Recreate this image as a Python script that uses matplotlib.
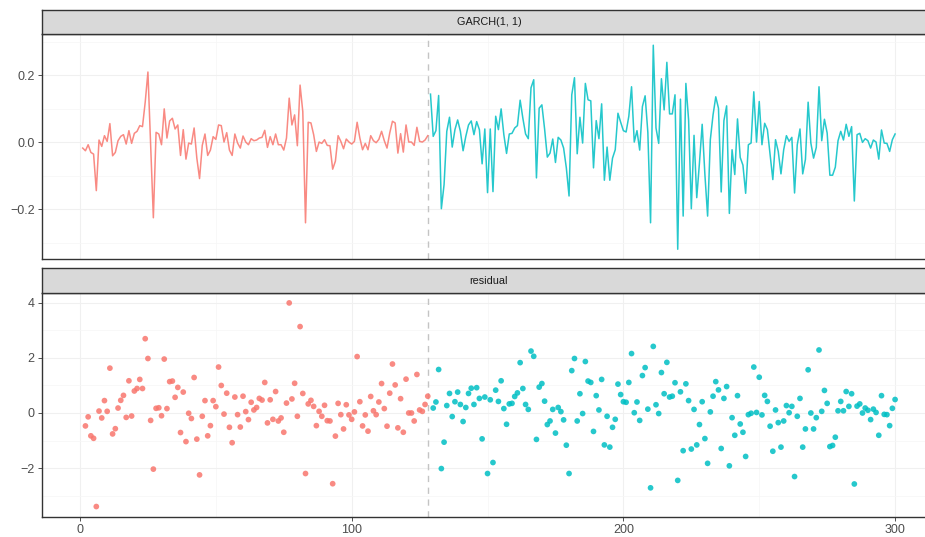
import matplotlib
matplotlib.use("Agg")
import matplotlib.pyplot as plt
import numpy as np
from matplotlib.ticker import FixedLocator, FuncFormatter

# ---------------- data ----------------
garch_red = [
    -0.017, -0.025, -0.007, -0.030, -0.035, -0.144, 0.007, -0.012, 0.020, 0.003,
    0.056, -0.040, -0.030, 0.005, 0.018, 0.023, -0.005, 0.035, -0.003, 0.027,
    0.033, 0.050, 0.047, 0.120, 0.210, -0.010, -0.225, 0.030, 0.025, -0.007,
    0.100, 0.013, 0.064, 0.072, 0.040, 0.052, -0.039, 0.038, -0.050, -0.002,
    -0.005, 0.043, -0.047, -0.108, -0.009, 0.025, -0.039, -0.023, 0.017, 0.009,
    0.052, 0.050, 0.001, 0.029, -0.023, -0.039, 0.025, -0.002, -0.017, 0.019,
    0.001, -0.007, 0.011, 0.005, 0.007, 0.013, 0.015, 0.036, -0.015, 0.017,
    -0.007, 0.025, -0.007, -0.007, -0.023, 0.013, 0.132, 0.052, 0.082, -0.010,
    0.171, 0.092, -0.240, 0.060, 0.058, 0.023, -0.027, 0.001, -0.003, 0.008,
    -0.009, -0.010, -0.080, -0.056, 0.020, 0.003, -0.019, 0.010, 0.001, -0.005,
    0.003, 0.060, 0.013, -0.022, -0.003, -0.022, 0.020, 0.005, -0.001, 0.009,
    0.033, 0.005, -0.017, 0.028, 0.063, 0.058, -0.032, 0.026, -0.029, 0.052,
    0.001, 0.001, -0.009, 0.045, 0.003, 0.001, 0.007, 0.020,
]
garch_red_start = 1

garch_cyan = [
    0.144, 0.018, 0.035, 0.140, -0.198, -0.126, 0.033, 0.075, -0.014, 0.038,
    0.067, 0.033, -0.025, 0.018, 0.052, 0.064, 0.023, 0.062, 0.038, -0.064,
    0.040, -0.150, 0.040, -0.147, 0.078, 0.038, 0.100, 0.023, -0.033, 0.025,
    0.027, 0.043, 0.050, 0.126, 0.072, 0.025, 0.011, 0.163, 0.187, -0.106,
    0.102, 0.112, 0.040, -0.044, -0.032, 0.010, -0.060, 0.015, 0.007, -0.017,
    -0.076, -0.160, 0.142, 0.193, -0.034, 0.075, -0.002, 0.176, 0.127, 0.124,
    -0.076, 0.065, 0.011, 0.115, -0.113, -0.014, -0.113, -0.047, -0.022, 0.087,
    0.060, 0.035, 0.031, 0.078, 0.166, 0.001, 0.035, -0.023, 0.107, 0.139,
    0.030, -0.240, 0.290, 0.043, -0.003, 0.190, 0.097, 0.239, 0.085, 0.085,
    0.142, -0.319, 0.129, -0.220, 0.176, 0.067, -0.198, 0.021, -0.165, -0.061,
    0.054, -0.096, -0.220, 0.008, 0.082, 0.136, 0.102, -0.148, 0.065, 0.109,
    -0.212, -0.022, -0.096, 0.070, -0.045, -0.068, -0.152, -0.007, -0.002, 0.151,
    0.001, 0.122, -0.007, 0.057, 0.038, -0.037, -0.111, 0.008, -0.027, -0.094,
    -0.022, 0.020, 0.003, 0.015, -0.151, -0.007, 0.040, -0.094, -0.051, 0.120,
    -0.002, -0.047, -0.015, 0.166, 0.005, 0.069, 0.028, -0.098, -0.098, -0.074,
    0.005, 0.033, 0.007, 0.054, 0.018, 0.047, -0.175, 0.023, 0.027, 0.000,
    0.011, 0.005, -0.017, 0.007, 0.001, -0.050, 0.037, -0.002, -0.003, -0.027,
    0.008, 0.025,
]
garch_cyan_start = 129

resid_red = [
    -0.47, -0.14, -0.83, -0.92, -3.40, 0.07, -0.18, 0.45, 0.06, 1.63,
    -0.76, -0.57, 0.18, 0.46, 0.64, -0.16, 1.17, -0.11, 0.80, 0.89,
    1.22, 0.89, 2.70, 1.98, -0.27, -2.04, 0.17, 0.19, -0.10, 1.96,
    0.16, 1.14, 1.16, 0.57, 0.93, -0.71, 0.76, -1.04, -0.01, -0.20,
    1.29, -0.95, -2.25, -0.12, 0.45, -0.83, -0.46, 0.45, 0.23, 1.67,
    1.00, -0.04, 0.72, -0.52, -1.08, 0.58, -0.06, -0.51, 0.61, 0.05,
    -0.24, 0.39, 0.11, 0.20, 0.53, 0.47, 1.11, -0.36, 0.48, -0.23,
    0.78, -0.29, -0.18, -0.70, 0.36, 4.00, 0.51, 1.08, -0.12, 3.14,
    0.71, -2.20, 0.33, 0.46, 0.24, -0.46, 0.06, -0.12, 0.28, -0.28,
    -0.29, -2.57, -0.84, 0.35, -0.06, -0.58, 0.30, -0.07, -0.23, 0.04,
    2.05, 0.41, -0.47, -0.07, -0.66, 0.60, 0.08, -0.06, 0.40, 1.07,
    0.16, -0.48, 0.72, 1.78, 1.02, -0.54, 0.52, -0.70, 1.23, 0.00,
    0.00, -0.29, 1.40, 0.11, 0.06, 0.31, 0.61,
]
resid_red_start = 2

resid_cyan = [
    0.18, 0.40, 1.58, -2.02, -1.06, 0.27, 0.71, -0.13, 0.41, 0.76,
    0.31, -0.31, 0.20, 0.71, 0.90, 0.31, 0.92, 0.53, -0.94, 0.58,
    -2.20, 0.48, -1.80, 0.83, 0.42, 1.17, 0.16, -0.41, 0.33, 0.35,
    0.60, 0.73, 1.83, 0.89, 0.31, 0.13, 2.25, 2.06, -0.96, 0.94,
    1.07, 0.43, -0.42, -0.29, 0.13, -0.73, 0.20, 0.05, -0.25, -1.17,
    -2.20, 1.54, 1.98, -0.29, 0.70, -0.02, 1.87, 1.16, 1.11, -0.67,
    0.63, 0.11, 1.22, -1.16, -0.12, -1.24, -0.52, -0.23, 1.05, 0.67,
    0.41, 0.39, 1.11, 2.16, 0.01, 0.40, -0.27, 1.36, 1.65, 0.14,
    -2.72, 2.42, 0.30, -0.02, 1.47, 0.70, 1.84, 0.58, 0.61, 1.10,
    -2.45, 0.77, -1.37, 1.06, 0.45, -1.31, 0.13, -1.16, -0.42, 0.41,
    -0.93, -1.83, 0.04, 0.61, 1.14, 0.84, -1.29, 0.53, 0.96, -1.92,
    -0.17, -0.81, 0.63, -0.40, -0.70, -1.58, -0.06, -0.01, 1.67, 0.02,
    1.30, -0.07, 0.64, 0.42, -0.48, -1.39, 0.11, -0.35, -1.24, -0.29,
    0.27, 0.01, 0.24, -2.31, -0.12, 0.53, -1.24, -0.58, 1.57, 0.00,
    -0.58, -0.17, 2.29, 0.06, 0.82, 0.35, -1.22, -1.18, -0.88, 0.08,
    0.42, 0.08, 0.78, 0.24, 0.70, -2.58, 0.25, 0.33, 0.00, 0.18,
    0.10, -0.24, 0.14, 0.02, -0.81, 0.63, -0.05, -0.06, -0.46, 0.17,
    0.49,
]
resid_cyan_start = 130

split_x = 128
strip_labels = ["GARCH(1, 1)", "residual"]
x_ticks = [0, 100, 200, 300]
x_minor = [50, 150, 250]
top_ticks = [-0.2, 0.0, 0.2]
top_minor = [-0.3, -0.1, 0.1, 0.3]
bot_ticks = [-2, 0, 2, 4]
bot_minor = [-3, -1, 1, 3]

RED = "#F8766D"
CYAN = "#00BFC4"

# ---------------- figure ----------------
plt.rcParams["font.family"] = ["Liberation Sans", "DejaVu Sans"]
W, H = 925, 537
fig = plt.figure(figsize=(W / 100, H / 100), dpi=100)


def rect(l, t, r, b):
    return [l / W, (H - b) / H, (r - l) / W, (b - t) / H]


LEFT, RIGHT = 42.1, 935.7
ax1 = fig.add_axes(rect(LEFT, 34.3, RIGHT, 259.3))
ax2 = fig.add_axes(rect(LEFT, 293.3, RIGHT, 517.0))
s1 = fig.add_axes(rect(LEFT, 10.0, RIGHT, 34.3))
s2 = fig.add_axes(rect(LEFT, 268.3, RIGHT, 293.3))

border = "#333333"
for ax in (ax1, ax2):
    ax.set_facecolor("white")
    for sp in ax.spines.values():
        sp.set_color(border)
        sp.set_linewidth(1.0)
    ax.set_xlim(-13.95, 314.95)
    ax.xaxis.set_major_locator(FixedLocator(x_ticks))
    ax.xaxis.set_minor_locator(FixedLocator(x_minor))
    ax.grid(which="major", color="#F0F0F0", linewidth=0.75)
    ax.grid(which="minor", color="#F6F6F6", linewidth=0.5)
    ax.set_axisbelow(True)
    ax.tick_params(which="major", length=2.9, width=0.6, color=border,
                   labelsize=9, labelcolor="#4D4D4D", pad=2.4)
    ax.tick_params(which="minor", length=0)
    ax.axvline(split_x, color="#C4C4C4", linewidth=1.0,
               linestyle=(0, (4.5, 4.0)), zorder=1)

for s, lab in zip((s1, s2), strip_labels):
    s.set_facecolor("#D9D9D9")
    s.set_xticks([])
    s.set_yticks([])
    for sp in s.spines.values():
        sp.set_color(border)
        sp.set_linewidth(1.0)
    s.text(0.5, 0.5, lab, transform=s.transAxes, ha="center", va="center",
           fontsize=7.8, color="#1A1A1A")

# top panel: lines
xr = np.arange(garch_red_start, garch_red_start + len(garch_red))
xc = np.arange(garch_cyan_start, garch_cyan_start + len(garch_cyan))
ax1.plot(xr, garch_red, color=RED, linewidth=1.1, alpha=0.85, zorder=3)
ax1.plot(xc, garch_cyan, color=CYAN, linewidth=1.1, alpha=0.85, zorder=3)
ax1.set_ylim(-0.349, 0.3226)
ax1.yaxis.set_major_locator(FixedLocator(top_ticks))
ax1.yaxis.set_minor_locator(FixedLocator(top_minor))
ax1.yaxis.set_major_formatter(FuncFormatter(lambda v, p: f"{v:.1f}".replace("-", "\u2212")))
ax1.tick_params(axis="x", which="both", length=0, labelbottom=False)

# bottom panel: points
xr2 = np.arange(resid_red_start, resid_red_start + len(resid_red))
xc2 = np.arange(resid_cyan_start, resid_cyan_start + len(resid_cyan))
ax2.scatter(xr2, resid_red, s=17, color=RED, alpha=0.85, edgecolors="none", zorder=3)
ax2.scatter(xc2, resid_cyan, s=17, color=CYAN, alpha=0.85, edgecolors="none", zorder=3)
ax2.set_ylim(-3.78, 4.35)
ax2.yaxis.set_major_locator(FixedLocator(bot_ticks))
ax2.yaxis.set_minor_locator(FixedLocator(bot_minor))
ax2.yaxis.set_major_formatter(FuncFormatter(lambda v, p: f"{v:.0f}".replace("-", "\u2212")))
ax2.xaxis.set_major_formatter(FuncFormatter(lambda v, p: f"{v:.0f}"))

fig.savefig("out.png", dpi=100, facecolor="white")
